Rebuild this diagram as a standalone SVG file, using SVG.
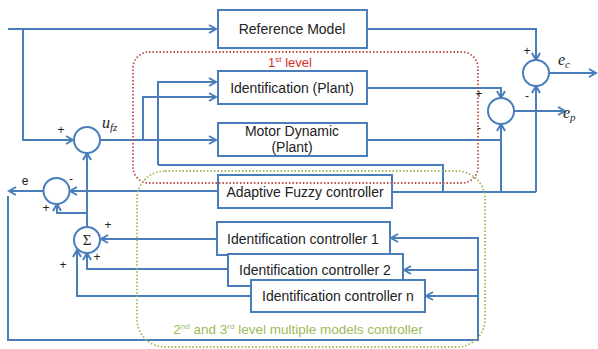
<svg xmlns="http://www.w3.org/2000/svg" width="598" height="349" viewBox="0 0 598 349">
<style>
.w{fill:none;stroke:#4a7ebb;stroke-width:2}
.b{fill:#fff;stroke:#4a7ebb;stroke-width:2}
.t{font-family:"Liberation Sans",Arial,sans-serif;font-size:14px;fill:#222;text-anchor:middle}
.s{font-family:"Liberation Sans",Arial,sans-serif;font-size:12px;fill:#222;text-anchor:middle}
.m{font-family:"Liberation Serif","DejaVu Serif",serif;font-style:italic;font-size:16px;fill:#222}
</style>
<defs>
<marker id="a" markerWidth="10" markerHeight="10" refX="8" refY="5" orient="auto" markerUnits="userSpaceOnUse">
<path d="M1,1 L8,5 L1,9" fill="none" stroke="#4a7ebb" stroke-width="2"/>
</marker>
</defs>
<g id="connectors" class="w">
<path d="M8,29 H216" marker-end="url(#a)"/>
<path d="M23,29 V140 H73" marker-end="url(#a)"/>
<path d="M100,140 H216" marker-end="url(#a)"/>
<path d="M143,140 V97 H216" marker-end="url(#a)"/>
<path d="M158,165 V82 H216" marker-end="url(#a)"/>
<path d="M158,165 H443 V192"/>
<path d="M536,192 H392"/>
<path d="M367,29 H536 V60" marker-end="url(#a)"/>
<path d="M367,88 H501 V98" marker-end="url(#a)"/>
<path d="M367,140 H501"/>
<path d="M501,192 V124" marker-end="url(#a)"/>
<path d="M536,192 V86" marker-end="url(#a)"/>
<path d="M549,73 H596" marker-end="url(#a)"/>
<path d="M514,111 H565" marker-end="url(#a)"/>
<path d="M218,191 H70" marker-end="url(#a)"/>
<path d="M43,191 H9" marker-end="url(#a)"/>
<path d="M8,196 V340 H478 V238 H391" marker-end="url(#a)"/>
<path d="M478,270 H404" marker-end="url(#a)"/>
<path d="M478,296 H426" marker-end="url(#a)"/>
<path d="M217,239 H101" marker-end="url(#a)"/>
<path d="M228,269 H87 V253" marker-end="url(#a)"/>
<path d="M251,296 H77 V250" marker-end="url(#a)"/>
<path d="M87,227 V153" marker-end="url(#a)"/>
<path d="M87,213 H57 V204" marker-end="url(#a)"/>
</g>
<g id="sum1"><circle class="b" cx="87" cy="140" r="13"/></g>
<g id="sumE"><circle class="b" cx="56.5" cy="191" r="13"/></g>
<g id="sigma"><circle class="b" cx="87" cy="240" r="13"/><text x="87" y="245" text-anchor="middle" font-family="Liberation Serif,serif" font-size="15" fill="#222">Σ</text></g>
<g id="sumP"><circle class="b" cx="501" cy="111" r="13"/></g>
<g id="sumC"><circle class="b" cx="536" cy="73" r="13"/></g>
<g id="refModel"><rect class="b" x="218" y="10" width="149" height="38"/><text class="t" x="292" y="34">Reference Model</text></g>
<g id="identPlant"><rect class="b" x="218" y="71" width="149" height="33"/><text class="t" x="292" y="93">Identification (Plant)</text></g>
<g id="motor"><rect class="b" x="218" y="123" width="149" height="33"/><text class="t" x="292" y="136">Motor Dynamic</text><text class="t" x="292" y="152">(Plant)</text></g>
<g id="fuzzy"><rect class="b" x="218" y="175" width="174" height="33"/><text class="t" x="305" y="197">Adaptive Fuzzy controller</text></g>
<g id="ic1"><rect class="b" x="217" y="222" width="173" height="33"/><text class="t" x="303" y="244">Identification controller 1</text></g>
<g id="ic2"><rect class="b" x="228" y="254" width="175" height="32"/><text class="t" x="315" y="275">Identification controller 2</text></g>
<g id="icn"><rect class="b" x="251" y="280" width="174" height="32"/><text class="t" x="338" y="301">Identification controller n</text></g>
<g id="level1">
<rect x="133" y="52" width="345" height="131" rx="16" fill="none" stroke="#c0504d" stroke-width="1.8" stroke-dasharray="1.5 2"/>
<text x="290" y="67" text-anchor="middle" font-family="Liberation Sans,Arial,sans-serif" font-size="13" fill="#d0312d">1<tspan font-size="8" dy="-5">st</tspan><tspan dy="5"> level</tspan></text>
</g>
<g id="level23">
<rect x="137" y="171" width="348" height="176" rx="28" fill="none" stroke="#9bbb59" stroke-width="1.8" stroke-dasharray="1.5 2"/>
<text x="298" y="334" text-anchor="middle" font-family="Liberation Sans,Arial,sans-serif" font-size="13.5" fill="#9bbb59">2<tspan font-size="8" dy="-5">nd</tspan><tspan dy="5"> and 3</tspan><tspan font-size="8" dy="-5">rd</tspan><tspan dy="5"> level multiple models controller</tspan></text>
</g>
<g id="labels">
<text class="s" x="61" y="134">+</text>
<text class="s" x="527" y="55">+</text>
<text class="s" x="527" y="100">-</text>
<text class="s" x="479" y="98" fill="#6b2b2b">+</text>
<text class="s" x="479" y="132" fill="#6b2b2b">-</text>
<text class="s" x="71" y="183">-</text>
<text class="s" x="46" y="212">+</text>
<text class="s" x="108" y="229">+</text>
<text class="s" x="97" y="261">+</text>
<text class="s" x="63" y="269">+</text>
<text class="s" x="25" y="185">e</text>
<text class="m" x="102" y="128">u<tspan font-size="11" dy="3">fz</tspan></text>
<text class="m" x="558" y="65">e<tspan font-size="11" dy="3">c</tspan></text>
<text class="m" x="563" y="118">e<tspan font-size="11" dy="3">p</tspan></text>
</g>
</svg>
